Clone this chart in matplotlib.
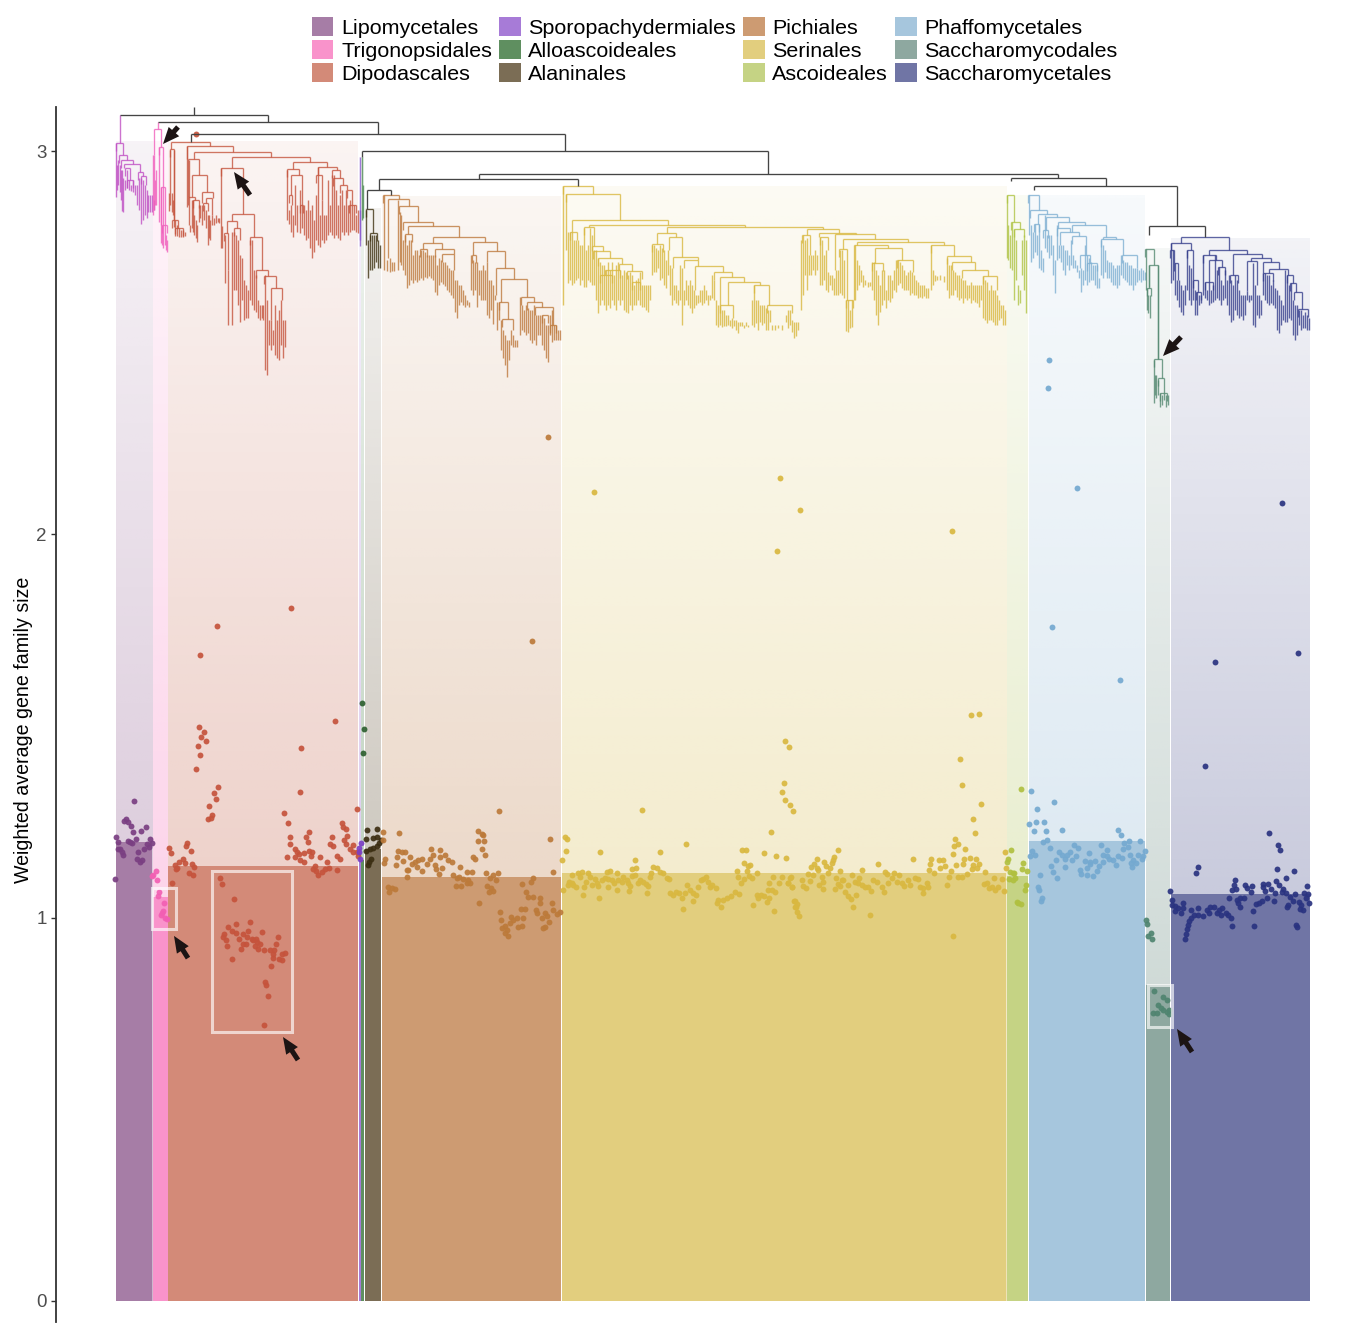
import numpy as np
import matplotlib
matplotlib.use("Agg")
import matplotlib.pyplot as plt
from matplotlib.collections import LineCollection
from matplotlib.colors import to_rgb
from matplotlib.patches import Patch, Rectangle, FancyArrowPatch

plt.rcParams['font.family'] = ['Liberation Sans', 'DejaVu Sans']

orders = ["Lipomycetales", "Trigonopsidales", "Dipodascales", "Sporopachydermiales", "Alloascoideales", "Alaninales",
          "Pichiales", "Serinales", "Ascoideales", "Phaffomycetales", "Saccharomycodales", "Saccharomycetales"]
bar_colors = ["#A67DA6", "#F993CB", "#D38A78", "#A77BD7", "#5F8F60", "#7B6D55",
              "#CD9B72", "#E2CE7E", "#C5D384", "#A6C6DD", "#8EA8A0", "#7075A5"]
point_colors = ["#7A3F82", "#F25FB3", "#C5533C", "#7B3FC4", "#2E5F30", "#3B2E12",
                "#BC7A3A", "#D9B840", "#B0C040", "#74A9D0", "#4F8470", "#2A3380"]
tree_colors = ["#C050C4", "#F060BC", "#C5553E", "#8A5CD0", "#4F8A55", "#3F3212",
               "#BE7A3E", "#D9B840", "#B0C445", "#7FB0D2", "#568A72", "#363F8C"]
clade_start = [115.5, 152.5, 168, 358.5, 361, 365, 382, 561.5, 1007, 1029, 1146, 1171]
clade_end = [152, 167.5, 358, 360.5, 364, 381, 561, 1006, 1028, 1145, 1170, 1309.5]
mean_size = [1.197, 1.053, 1.134, 1.18, 1.15, 1.18, 1.106, 1.116, 1.108, 1.20, 0.823, 1.061]
band_top = [3.026, 3.026, 3.026, 2.985, 2.985, 2.853, 2.884, 2.910, 2.887, 2.887, 2.748, 2.774]
y_ticks = [0, 1, 2, 3]
highlight_boxes = [(152, 176, 0.97, 1.077), (212, 292, 0.70, 1.121), (1148, 1172, 0.715, 0.823)]
arrows_value = [((188, 0.894), (174, 0.952)), ((298, 0.628), (283, 0.688)), ((1192, 0.649), (1177, 0.709))]
arrows_depth = [((250, 195), (234, 172)), ((178, 127), (163, 144)), ((1181, 337), (1163, 356))]

# species: (species position, weighted average family size)
lipo_pts = [(134,1.305),(126,1.256),(124,1.253),(128,1.250),(131,1.240),(133,1.224),(141,1.227),(146,1.237),(116,1.210),(118,1.198),(128,1.201),(132,1.194),(136,1.205),(150,1.204),(152,1.195),(149,1.185),(144,1.180),(138,1.170),(118,1.178),(122,1.172),(123,1.162),(137,1.154),(140,1.146),(142,1.149),(115,1.101),(120,1.180),(130,1.198),(147,1.192)]
trig_pts = [(156,1.121),(153,1.111),(152,1.109),(157,1.097),(159,1.066),(158,1.055),(164,1.037),(163,1.018),(161,1.007),(165,1.000),(167,0.997),(162,1.012)]
dipo_pts = [(196,3.046),(217,1.761),(291,1.808),(200,1.685),(335,1.513),(301,1.443),(199,1.497),(204,1.484),(201,1.471),(206,1.461),(198,1.448),(200,1.424),(196,1.388),
 (218,1.342),(214,1.324),(216,1.309),(209,1.291),(212,1.268),(208,1.258),(211,1.259),(300,1.328),(284,1.272),(288,1.246),(357,1.283),(309,1.222),(342,1.248),(343,1.237),(346,1.232),(290,1.209),(306,1.209),(308,1.198),(290,1.192),(332,1.209),(330,1.192),(333,1.187),(347,1.214),(344,1.202),(346,1.192),(353,1.189),(350,1.178),(353,1.172),(357,1.172),(358,1.161),(295,1.179),(297,1.172),(299,1.166),(309,1.174),(312,1.172),(304,1.168),(311,1.161),(287,1.157),(295,1.157),(300,1.150),(304,1.144),(320,1.157),(337,1.161),(340,1.152),(315,1.134),(313,1.126),(316,1.122),(318,1.112),(322,1.119),(325,1.127),(327,1.144),(329,1.129),(337,1.124),
 (169,1.181),(171,1.169),(187,1.194),(186,1.187),(191,1.174),(179,1.146),(183,1.154),(185,1.143),(175,1.137),(177,1.128),(176,1.126),(192,1.139),(194,1.131),(189,1.115),(193,1.112),(172,1.091),
 (220,1.103),(222,1.087),(234,1.049),(236,0.983),(250,0.989),(228,0.974),(232,0.966),(236,0.959),(248,0.966),(243,0.956),(239,0.945),(247,0.950),(224,0.957),(223,0.950),(226,0.941),(227,0.926),(232,0.892),(262,0.963),(278,0.950),(253,0.941),(257,0.935),(255,0.926),(258,0.919),(243,0.931),(241,0.917),(264,0.914),(270,0.915),(276,0.931),(274,0.915),(273,0.906),(285,0.908),(282,0.904),(273,0.894),(282,0.889),(279,0.892),(271,0.873),(265,0.832),(266,0.823),(268,0.796),(264,0.720),(252,0.945),(256,0.945),(246,0.931),(260,0.930)]
sporo_pts = [(361,1.194),(359,1.181),(360,1.154),(359,1.170)]
allo_pts = [(362,1.560),(364,1.492),(363,1.430)]
alan_pts = [(367,1.228),(377,1.231),(366,1.204),(373,1.208),(377,1.209),(381,1.202),(379,1.194),(377,1.187),(373,1.181),(370,1.179),(366,1.174),(371,1.154),(369,1.146),(368,1.137)]
pich_pts = [(383,1.224),(383,1.202),(399,1.221),(385,1.154),(384,1.143),(398,1.174),(402,1.172),(405,1.170),(397,1.159),(403,1.148),(410,1.159),(396,1.137),(407,1.124),(408,1.123),(407,1.105),(422,1.154),(418,1.150),(415,1.146),(412,1.140),(417,1.131),(422,1.121),(427,1.141),(430,1.154),(433,1.163),(431,1.178),(440,1.177),(440,1.157),(445,1.163),(448,1.150),(452,1.146),(435,1.137),(436,1.126),(442,1.128),(439,1.114),(388,1.079),(392,1.076),(395,1.075),(389,1.066),(479,1.037),(499,1.279),(478,1.226),(482,1.218),(483,1.215),(478,1.199),(484,1.201),(482,1.178),(485,1.164),(473,1.159),(475,1.153),(460,1.133),(453,1.111),(457,1.102),(459,1.107),(467,1.120),(472,1.120),(463,1.101),(468,1.098),(467,1.089),(470,1.089),(456,1.081),(461,1.082),(486,1.115),(498,1.117),(493,1.111),(490,1.102),(496,1.098),(487,1.083),(491,1.076),(493,1.069),(489,1.066),(550,1.205),(553,1.118),(533,1.102),(531,1.093),(522,1.087),(526,1.066),(528,1.054),(533,1.053),(540,1.052),(540,1.037),(521,1.021),(525,1.021),(536,1.020),(537,1.011),(552,1.037),(553,1.020),(545,1.011),(547,1.004),(542,1.000),(560,1.015),(557,1.009),(500,1.015),(501,0.993),(511,1.002),(513,0.993),(523,0.999),(517,0.998),(510,0.985),(505,0.979),(502,0.973),(507,0.967),(505,0.959),(508,0.953),(522,0.979),(518,0.976),(549,0.987),(545,0.976),(543,0.973),(532,1.722),(548,2.254)]
seri_pts = [(565,1.211),(567,1.204),(566,1.174),(562,1.149),(600,1.172),(635,1.150),(660,1.170),(686,1.192),(771,1.222),(742,1.176),(746,1.176),(764,1.169),(776,1.161),(786,1.155),(744,1.142),(748,1.135),(750,1.138),(737,1.122),(747,1.121),(757,1.115),(738,1.107),
 (572,1.111),(569,1.094),(572,1.089),(573,1.085),(576,1.080),(568,1.085),(578,1.117),(582,1.120),(580,1.107),(588,1.115),(590,1.105),(586,1.094),(592,1.085),(584,1.079),(595,1.100),(598,1.083),(597,1.091),(602,1.098),(607,1.120),(610,1.122),(605,1.102),(608,1.100),(612,1.098),(614,1.091),(617,1.115),(618,1.098),(622,1.094),(623,1.107),(627,1.098),(628,1.089),(630,1.083),(632,1.126),(636,1.128),(632,1.108),(635,1.111),(638,1.089),(640,1.098),(643,1.094),(646,1.087),(648,1.082),(650,1.107),(651,1.117),(653,1.131),(657,1.128),(660,1.120),(663,1.115),(667,1.104),(669,1.100),(670,1.063),(673,1.059),(676,1.067),(679,1.063),(682,1.050),(685,1.063),(687,1.085),(690,1.072),(693,1.063),(696,1.059),(693,1.044),(683,1.021),(698,1.080),(701,1.098),(703,1.100),(706,1.105),(708,1.094),(710,1.080),(712,1.085),(716,1.076),(718,1.047),(721,1.027),(717,1.039),(723,1.046),(727,1.050),(731,1.055),(735,1.067),(739,1.061),(741,1.089),(744,1.101),(749,1.109),(752,1.102),(753,1.032),(757,1.059),(758,1.050),(761,1.059),(764,1.055),(767,1.041),(769,1.050),(768,1.072),(772,1.072),(775,1.066),(769,1.089),(773,1.105),(779,1.089),(782,1.105),(788,1.091),(791,1.105),(792,1.080),(774,1.016),
 (563,1.072),(583,1.060),(599,1.050),(608,1.079),(617,1.072),(629,1.070),(647,1.065),(794,1.044),(795,1.028),
 (817,1.153),(814,1.141),(811,1.133),(817,1.128),(818,1.124),(824,1.146),(834,1.157),(833,1.150),(832,1.143),(838,1.176),(826,1.134),(830,1.128),(828,1.117),(840,1.121),(808,1.113),(813,1.111),(790,1.103),(788,1.091),(792,1.079),(802,1.097),(803,1.082),(806,1.076),(810,1.096),(822,1.107),(823,1.094),(819,1.085),(823,1.074),(836,1.104),(842,1.098),(838,1.087),(835,1.074),(843,1.098),(840,1.082),(848,1.085),(852,1.111),(859,1.104),(855,1.094),(858,1.089),(862,1.124),(862,1.085),(865,1.080),(868,1.080),(871,1.070),(873,1.098),(877,1.094),(878,1.141),(882,1.080),(884,1.066),(885,1.120),(887,1.114),(888,1.089),(892,1.102),(894,1.117),(899,1.111),(897,1.094),(902,1.089),(904,1.082),(908,1.098),(910,1.085),(915,1.104),(918,1.100),(920,1.080),(923,1.076),(927,1.089),(928,1.080),(923,1.065),
 (913,1.153),(931,1.153),(930,1.140),(939,1.150),(943,1.150),(945,1.135),(929,1.124),(934,1.117),(940,1.128),(951,1.121),(949,1.107),(947,1.085),(953,1.165),(954,1.187),(958,1.191),(955,1.204),(975,1.221),(965,1.179),(956,1.138),(963,1.139),(964,1.153),(970,1.156),(976,1.154),(979,1.141),(973,1.137),(972,1.127),(977,1.128),(967,1.113),(958,1.106),(962,1.105),(985,1.120),(984,1.087),(987,1.089),(989,1.076),(992,1.080),(994,1.102),(995,1.072),(998,1.080),(1002,1.100),(1004,1.069),(1005,1.172),(1006,1.128),
 (845,1.067),(848,1.056),(851,1.048),(856,1.060),(853,1.027),(870,1.006),(795,1.043),(797,1.035),(796,1.027),(797,1.014),(799,1.004),
 (594,2.111),(780,2.147),(800,2.064),(777,1.957),(952,2.009),(642,1.281),(785,1.461),(789,1.445),(971,1.529),(979,1.531),(960,1.414),(962,1.346),(981,1.296),(973,1.257),(784,1.351),(782,1.328),(785,1.307),(790,1.294),(793,1.278),(953,0.952)]
asco_pts = [(1021,1.335),(1011,1.177),(1008,1.152),(1007,1.146),(1023,1.143),(1022,1.127),(1027,1.121),(1010,1.120),(1013,1.115),(1014,1.115),(1009,1.101),(1013,1.098),(1015,1.102),(1026,1.086),(1025,1.073),(1017,1.041),(1018,1.037),(1021,1.035)]
phaf_pts = [(1031,1.329),(1054,1.301),(1037,1.282),(1029,1.245),(1036,1.249),(1044,1.249),(1034,1.226),(1046,1.225),(1062,1.229),(1043,1.198),(1047,1.202),(1050,1.181),(1032,1.174),(1030,1.161),(1035,1.162),(1059,1.172),(1062,1.163),(1065,1.153),(1070,1.172),(1067,1.163),(1074,1.189),(1078,1.181),(1076,1.161),(1072,1.150),(1089,1.168),(1056,1.149),(1051,1.135),(1053,1.119),(1065,1.132),(1040,1.111),(1057,1.102),(1038,1.080),(1039,1.071),(1042,1.052),(1041,1.042),
 (1080,1.124),(1081,1.114),(1085,1.147),(1090,1.146),(1087,1.128),(1090,1.141),(1095,1.147),(1099,1.134),(1097,1.122),(1093,1.108),(1087,1.112),(1101,1.188),(1107,1.175),(1103,1.163),(1107,1.161),(1103,1.146),(1109,1.152),(1113,1.150),(1118,1.161),(1116,1.136),(1122,1.155),(1118,1.229),(1121,1.215),(1124,1.194),(1129,1.200),(1140,1.200),(1145,1.174),(1123,1.179),(1128,1.183),(1130,1.163),(1138,1.162),(1133,1.150),(1143,1.161),(1142,1.152),(1131,1.142),(1136,1.143),(1132,1.131),
 (1049,2.455),(1048,2.383),(1077,2.121),(1052,1.759),(1120,1.620)]
sacd_pts = [(1146,0.993),(1147,0.982),(1148,0.952),(1151,0.960),(1152,0.943),(1154,0.809),(1163,0.793),(1167,0.785),(1158,0.772),(1163,0.758),(1167,0.754),(1153,0.750),(1157,0.752),(1169,0.758),(1169,0.748),(1161,0.763)]
sacc_pts = [(1269,1.221),(1278,1.188),(1280,1.176),(1198,1.132),(1196,1.115),(1277,1.127),(1294,1.121),(1286,1.102),(1276,1.095),(1235,1.099),(1234,1.086),(1236,1.074),(1232,1.071),(1245,1.086),(1247,1.076),(1252,1.083),(1251,1.067),(1263,1.087),(1268,1.087),(1263,1.080),(1265,1.069),(1271,1.074),(1275,1.065),(1279,1.085),(1283,1.074),(1282,1.066),(1286,1.065),(1307,1.081),(1295,1.061),(1304,1.063),(1308,1.061),(1306,1.050),(1309,1.038),(1290,1.054),(1293,1.044),(1288,1.033),(1287,1.027),(1299,1.041),(1301,1.033),(1300,1.021),(1303,1.020),
 (1170,1.068),(1172,1.047),(1172,1.033),(1175,1.030),(1178,1.026),(1183,1.025),(1175,1.017),(1181,1.011),(1183,1.038),(1191,1.020),(1198,1.025),(1194,1.007),(1191,1.000),(1189,0.990),(1188,0.981),(1187,0.970),(1186,0.956),(1185,0.945),(1198,1.007),(1203,1.005),(1207,1.020),(1210,1.027),(1214,1.028),(1209,1.011),(1219,1.020),(1222,1.024),(1217,1.013),(1221,1.007),(1226,1.013),(1228,1.007),(1231,1.000),(1232,0.978),(1229,1.052),(1237,1.047),(1240,1.050),(1244,1.050),(1240,1.027),(1238,1.039),(1253,1.016),(1254,0.978),(1256,1.034),(1259,1.039),(1262,1.044),(1267,1.050),(1274,1.043),(1296,0.980),(1297,0.974),
 (1282,2.082),(1298,1.691),(1215,1.667),(1205,1.395)]
all_points = [lipo_pts, trig_pts, dipo_pts, sporo_pts, allo_pts, alan_pts, pich_pts, seri_pts, asco_pts, phaf_pts, sacd_pts, sacc_pts]

# tree nodes: (left child position, right child position, node depth)
root_nodes = [(120,268,115),(158,378,121.5),(191,565,134),(361.5,768,151),(479,1058,174),(379,578,179),(367,391,190),(1011,1106,178),(1034,1177,186),(1149,1205,226)]
root_stems = [(194,107,115),(191,134,142),(361.5,151,157),(367,190,209),(391,190,195),(578,179,186),(1011,178,181),(1034,186,190),(1149,226,235),(1205,226,237)]
lipo_nodes = [(116,122.7,143),(119,126.7,155),(120.7,133.3,160),(124,140,164),(125,130,168),(138,142.7,172),(141,146,176),(127,133,180)]
trig_nodes = [(154.3,161.3,129),(158.7,163.3,146.7),(161,165,187),(161.7,166.7,225)]
dipo_nodes = [(171.3,210,141.7),(169.7,174,149.3),(187,233,145.7),(188,199,158.7),(193.7,271,152.3),(191.7,207,175.3),(201.7,212.7,191.7),(231.7,310,157.3),(221,242.7,167.7),(231.7,253.7,214),(226.7,237,220.7),(224,228,233),(234,240,228),(250,261.7,236.7),(255.7,267.7,270),(264,275.7,275.7),(270.7,281.7,287.7),(292.7,327,162.3),(287,299,169.3),(291,302,175),(318,336.7,167.3),(316,322,175),(331.7,340,170),(333,343,178),(340,347,185),(347,352,190),(349,356,205),(288.7,292,195),(300,303,205),(188,195,197),(193,199,200),(203,208,203),(206,212,198),(172,178,220),(175,183,228)]
alan_nodes = [(366,373,209),(370,377,233)]
pich_nodes = [(383,399,195),(388,409,199),(399,418,206),(403,433,221.7),(408,459,225.7),(405,412,234),(432.7,485,237.3),(422.7,442.3,243.3),(473,496.7,242.3),(420,427,249),(435,454,249),(441.7,454,254),(471.7,476,255),(487.3,505.3,250.7),(496.3,514.3,268.3),(501,527.3,279.3),(520.7,533.7,296.7),(499.3,508.3,301.7),(501.7,513.3,319.3),(526.7,541.7,301.7),(535,552.7,307.3),(542,548,315),(550,556,325)]
seri_nodes = [(563,593,186),(566,620,194.3),(571.7,667.7,220),(589.3,745,225),(666.7,823,227.3),(570,576.7,231.7),(584,594.3,227.3),(592.3,602.7,246),(593,610,250.7),(598,621.7,257.7),(619,631.7,264),(626.7,641.7,271),(657.3,676,233.3),(651.7,663.3,244),(669,682.3,237.3),(673,698,257.3),(684,698,260),(694.7,723.3,266),(714,732.3,271.7),(720,744,276.7),(728.3,760,281.7),(754,769.3,285),(720,733,305),(766.7,792.3,305),(806.7,839.3,229.3),(801.7,810,235),(819.3,855.7,232.7),(820,827.7,236.7),(835,875,234.3),(842.7,908.3,239.3),(839.3,846.7,249),(856.7,944.3,241.7),(854,888,245),(930.7,954.3,245),(875,901.7,247.7),(871.7,883.3,262.7),(896.7,913.3,260),(946.7,970.7,256),(951.7,975,262),(961.7,988.3,270),(983.3,996.7,276),(846,853.3,300),(605,620,270),(632,640,282),(600,612,275)]
asco_nodes = [(1007.3,1014,195),(1010.7,1020,222.3),(1014,1024.3,229)]
phaf_nodes = [(1028.3,1039,195),(1030,1047.3,210),(1037.7,1056.7,214),(1045.7,1068.7,217.3),(1058.3,1085,221.7),(1034.3,1039.3,224),(1043,1048,230),(1057.3,1070,227.7),(1071.7,1105.7,225),(1060,1079.3,231.7),(1071.7,1086,236),(1101,1123.3,239),(1102.7,1115.7,236.7),(1121.7,1136.7,255),(1080,1090,255),(1087,1097,263)]
sacd_nodes = [(1145.3,1153.7,249),(1147,1151,287.7),(1148.7,1158,265),(1154,1161.7,359.3),(1158.3,1163.7,378.3),(1160,1167,393)]
sacc_nodes = [(1181.3,1228.7,237.3),(1171,1190.7,242.7),(1209,1247.3,250),(1203.3,1215.7,255),(1233.3,1261.7,254),(1250.7,1271,257.7),(1208.7,1222.3,260),(1246.7,1256.7,261),(1262.7,1279.3,261.7),(1269.3,1288.3,269),(1286.7,1292.7,275),(1290,1296,282.7),(1294,1301.7,292),(1298.3,1308.3,309.3),(1170,1174,250),(1174.3,1178.3,263.3),(1186.7,1193.3,250),(1193.3,1198.3,280),(1196,1200.7,291.7),(1205,1212.7,281.7),(1218.3,1225,267.3),(1230,1238.3,275),(1263.3,1273.3,273.3)]
sporo_nodes = []
allo_nodes = []
all_nodes = [lipo_nodes, trig_nodes, dipo_nodes, sporo_nodes, allo_nodes, alan_nodes, pich_nodes, seri_nodes, asco_nodes, phaf_nodes, sacd_nodes, sacc_nodes]

# tips: (species position, branch start depth, branch end depth)
lipo_tips = [(120,115,143),(116,143,197),(117,165,190),(118,160,185),(120,165,192),(121,170,200),(122,170,211),(123,178,212),(125,180,190),(127,170,188),(129,180,190),(131,185,191),(133,180,192),(135,185,195),(137,185,205),(139,178,210),(141,178,224),(143,180,220),(145,185,215),(147,190,218),(148,195,212),(150,195,212),(152,195,212),(154,200,210)]
trig_tips = [(158,121.5,129),(153,155,215),(154,155,210),(155,180,205),(156,170,205),(159,147,222),(161,187,243),(162,225,245),(163,187,248),(165,225,245),(166,235,250),(167,240,252)]
dipo_tips = [(169,193,211),(170,150,205),(172,193,212),(173,200,215),(174,150,227),(175,220,234),(177,225,236),(179,228,237),(181,230,237),(183,230,237),(185,232,236),(187,146,207),(189,160,225),(190,225,232),(192,200,228),(193,200,232),(194,215,235),(196,220,238),(197,225,242),(199,205,222),(200,205,218),(202,205,225),(204,205,220),(206,210,228),(208,215,245),(209,215,238),(210,220,240),(212,215,225),(214,218,225),(216,215,223),(218,218,222),(219,218,223),(221,168,248),(222,226,248),(225,235,283),(228,270,325),(232,232,325),(234,232,290),(236,235,290),(238,240,305),(240,255,322),(242,258,300),(244,280,320),(246,285,318),(248,290,318),(250,240,300),(252,240,305),(254,270,310),(256,275,312),(258,300,318),(260,305,320),(262,305,318),(263,305,320),(265,275,370),(267,300,375),(269,320,345),(271,320,350),(273,330,345),(275,305,355),(277,320,358),(279,310,360),(281,300,345),(283,320,358),(285,320,347),
 (287,170,220),(289,210,224),(291,205,232),(293,215,237),(295,185,225),(297,205,232),(300,190,233),(302,205,228),(304,205,235),(306,210,240),(308,200,238),(310,210,248),(312,205,258),(314,220,252),(316,195,240),(318,167,245),(320,215,247),(322,200,240),(324,215,243),(326,215,240),(328,180,235),(330,205,232),(332,175,235),(334,175,238),(336,190,235),(338,205,238),(340,195,240),(342,190,232),(344,205,235),(346,190,232),(348,205,235),(350,200,232),(352,205,230),(354,205,230),(356,215,232),(358,210,233)]
sporo_tips = [(359.7,157,246),(360,210,240)]
allo_tips = [(362.3,157,220),(362.8,185,218)]
alan_tips = [(366,210,245),(368,240,278),(370,235,270),(372,235,270),(374,235,268),(376,235,262),(378,240,268),(380,245,268)]
pich_tips = [(384,195,270),(387,260,271),(390,258,272),(392,262,271),(394,262,271),(398,200,270),(400,212,262),(401,215,265),(403,240,270),(405,235,275),(407,245,288),(409,240,285),(411,240,280),(413,255,283),(415,250,280),(417,250,282),(419,255,280),(421,250,278),(423,250,280),(425,252,277),(427,255,278),(429,255,276),(431,255,278),(433,255,280),(435,255,292),(437,265,295),(439,258,285),(441,260,282),(443,262,284),(445,262,286),(447,265,290),(449,268,292),(451,270,295),(453,270,298),(455,280,312),(457,280,318),(459,285,305),(461,285,302),(463,290,305),(465,295,307),(467,300,305),(469,302,307),(471,255,290),(473,260,295),(475,262,290),(477,262,307),(479,270,295),(481,270,300),(483,265,300),(485,270,300),(487,262,315),(489,280,318),(491,280,310),(493,285,324),(495,295,300),(497,302,330),(499,302,320),(501,320,350),(503,330,358),(505,335,365),(507,340,377),(509,340,360),(511,330,345),(513,335,347),(515,340,347),(517,340,347),(520,297,335),(522,305,330),(524,310,332),(526,305,335),(528,308,333),(530,310,340),(532,310,343),(534,305,340),(536,315,345),(538,315,335),(540,315,335),(542,315,345),(544,318,350),(546,325,358),(548,325,362),(550,315,335),(552,310,342),(554,325,340),(556,325,340),(558,330,340),(560,330,340)]
seri_tips = [(563,186,305),(566,194,250),(568,232,283),(570,232,280),(572,232,285),(574,240,283),(576,240,280),(578,240,278),(580,245,285),(582,245,280),(584,228,287),(586,250,287),(588,245,280),(590,228,282),(592,235,285),(594,250,285),(596,250,300),(598,258,313),(600,262,305),(602,265,300),(604,265,305),(606,270,310),(608,262,305),(610,270,308),(612,262,300),(614,275,305),(616,265,310),(618,262,300),(620,270,305),(622,275,300),(624,270,310),(626,272,312),(628,275,313),(630,272,305),(632,275,310),(634,285,305),(636,280,305),(638,278,300),(640,272,305),(642,285,307),(644,285,307),(646,285,310),(648,285,312),(650,285,300),(652,245,275),(654,245,272),(656,248,272),(658,250,268),(660,245,280),(662,248,278),(664,250,285),(666,260,288),(668,250,275),(670,265,295),(672,268,305),(674,285,300),(676,285,303),(678,290,305),(680,265,300),(682,268,325),(684,290,305),(686,280,300),(688,285,305),(690,280,308),(692,285,313),(694,290,308),(696,295,305),(698,295,303),(700,290,302),(702,290,305),(704,285,303),(706,290,300),(708,295,305),(710,295,300),(712,275,298),(714,280,300),(716,300,325),(718,305,327),(720,305,325),(722,310,327),(724,310,326),(726,315,326),(728,315,325),(730,320,326),(732,318,328),(734,320,326),(736,320,330),(738,322,333),(740,322,326),(742,322,326),(744,325,328),(746,322,326),(748,325,327),(752,300,325),(754,285,327),(756,300,323),(758,300,330),(760,305,322),(762,305,325),(764,305,323),(766,308,330),(768,310,330),(770,310,322),(772,325,330),(775,325,330),(778,325,328),(782,325,330),(786,315,322),(788,310,328),(790,310,325),(792,320,332),(794,322,338),(796,322,336),(798,322,330),
 (801,240,310),(803,235,295),(805,240,275),(807,238,290),(809,255,275),(811,255,275),(813,255,270),(815,250,275),(817,255,270),(820,237,285),(822,240,285),(824,255,280),(826,250,290),(828,272,292),(830,275,285),(832,275,290),(834,278,295),(836,270,295),(838,270,295),(840,250,293),(842,250,295),(844,260,298),(846,300,331),(848,300,332),(850,310,328),(852,300,327),(855,245,300),(857,260,290),(859,265,285),(861,270,282),(863,275,287),(865,280,285),(868,282,287),(870,282,286),(872,262,290),(874,262,300),(876,270,315),(878,275,325),(880,285,312),(882,270,305),(884,270,300),(886,290,308),(888,275,300),(890,275,302),(892,280,298),(894,270,290),(896,260,292),(898,260,285),(900,262,283),(902,265,288),(904,270,290),(906,275,290),(908,272,290),(910,270,295),(912,272,293),(914,275,295),(916,280,295),(918,282,298),(920,285,297),(922,285,298),(924,285,296),(926,288,298),(928,288,298),(931,245,290),(933,270,285),(935,275,281),(937,276,280),(940,275,280),(944,276,282),(947,258,290),(949,265,298),(951,265,295),(953,270,295),(955,272,290),(957,275,297),(959,275,300),(961,278,298),(963,280,303),(965,280,298),(967,285,300),(969,285,298),(971,282,303),(973,285,300),(975,285,302),(977,285,303),(979,285,307),(981,285,300),(983,276,318),(985,280,320),(987,282,323),(989,290,320),(991,285,320),(993,290,322),(995,290,325),(997,295,325),(999,300,320),(1001,305,318),(1003,305,325),(1005,310,325)]
asco_tips = [(1007,195,258),(1008,225,260),(1010,235,268),(1012,222,270),(1014,229,300),(1016,240,280),(1018,285,305),(1020,290,303),(1022,240,275),(1024,235,290),(1026,240,313)]
phaf_tips = [(1029,195,235),(1031,225,262),(1033,232,258),(1035,224,252),(1037,235,255),(1039,224,268),(1041,250,270),(1043,258,272),(1045,215,248),(1047,235,252),(1049,235,258),(1051,235,255),(1053,245,275),(1055,260,293),(1057,225,260),(1059,245,258),(1061,245,262),(1063,245,270),(1065,250,275),(1067,250,265),(1069,255,270),(1071,240,265),(1073,255,268),(1075,260,268),(1077,265,272),(1079,270,278),(1081,268,292),(1083,270,285),(1085,245,280),(1087,255,285),(1089,258,282),(1091,262,280),(1093,265,280),(1095,265,285),(1097,265,288),(1099,278,288),(1101,240,275),(1103,245,278),(1105,250,272),(1107,260,278),(1109,262,278),(1111,262,282),(1113,265,285),(1115,268,285),(1117,265,288),(1119,265,285),(1121,255,275),(1123,260,278),(1125,262,280),(1127,262,282),(1129,265,285),(1131,265,285),(1133,268,290),(1135,268,285),(1137,268,282),(1139,270,280),(1141,268,282),(1143,270,280),(1145,272,280)]
sacd_tips = [(1146,249,290),(1147,288,310),(1148,295,313),(1150,295,318),(1148.7,265,287),(1158,265,359),(1154,360,403),(1155,375,395),(1156,375,398),(1158,380,395),(1160,393,407),(1162,395,405),(1164,393,400),(1166,395,407),(1168,395,405)]
sacc_tips = [(1171,243,283),(1173,250,280),(1175,263,295),(1177,280,300),(1179,280,307),(1181,285,312),(1183,290,315),(1185,285,305),(1187,250,290),(1189,265,300),(1191,268,305),(1193,280,300),(1195,290,315),(1197,292,315),(1199,295,305),(1201,295,303),(1203,255,295),(1205,282,298),(1207,290,300),(1209,282,305),(1211,290,303),(1213,285,302),(1215,255,300),(1217,270,298),(1219,267,300),(1221,280,305),(1223,285,300),(1225,270,298),(1227,280,305),(1229,275,315),(1231,280,322),(1233,285,320),(1235,275,310),(1237,280,315),(1239,290,318),(1241,295,316),(1243,295,320),(1245,295,315),(1247,291,300),(1249,295,302),(1251,295,300),(1253,263,325),(1255,285,327),(1257,295,315),(1259,295,318),(1261,300,315),(1263,273,295),(1265,273,300),(1267,275,303),(1269,275,305),(1271,285,303),(1273,280,305),(1275,288,308),(1277,290,330),(1279,295,333),(1281,300,325),(1283,305,320),(1285,270,322),(1287,275,322),(1289,285,318),(1291,283,320),(1293,300,335),(1295,305,340),(1297,305,335),(1299,310,325),(1301,310,330),(1303,315,328),(1305,312,328),(1307,315,330),(1309,318,330)]
all_tips = [lipo_tips, trig_tips, dipo_tips, sporo_tips, allo_tips, alan_tips, pich_tips, seri_tips, asco_tips, phaf_tips, sacd_tips, sacc_tips]

W, H = 1357, 1323
fig = plt.figure(figsize=(W / 100, H / 100), dpi=100)
ax = fig.add_axes([56 / W, 1 - 1322 / H, (1345 - 56) / W, (1322 - 107) / H])
X_LIM = (56, 1345)
Y_LIM = (-0.056, 3.116)
DEPTH_LIM = (1322, 107)


def bracket_segments(nodes, tips):
    segs = []
    for xl, xr, d in nodes:
        segs.append([(xl, d), (xr, d)])
        for x in (xl, xr):
            below = [n[2] for n in nodes if n[2] > d and n[0] - 1.5 <= x <= n[1] + 1.5]
            if below:
                end = min(below)
            else:
                near = [t for t in tips if abs(t[0] - x) <= 2.5]
                end = max(d + 8, min(t[1] for t in near)) if near else d + 10
            segs.append([(x, d), (x, end)])
    return segs


for start, end, top, col in zip(clade_start, clade_end, band_top, bar_colors):
    grad = np.zeros((256, 1, 4))
    grad[:, :, :3] = to_rgb(col)
    grad[:, 0, 3] = np.linspace(0.09, 0.56, 256)
    ax.imshow(grad, extent=(start, end, 0, top), aspect='auto', origin='upper', zorder=1, interpolation='bilinear')

ax.bar(clade_start, mean_size, width=np.array(clade_end) - np.array(clade_start), align='edge',
       color=bar_colors, linewidth=0, zorder=2)

for pts, col in zip(all_points, point_colors):
    xs, ys = zip(*pts)
    ax.scatter(xs, ys, s=18, color=col, alpha=0.92, linewidth=0, zorder=3)

for x0, x1, y0, y1 in highlight_boxes:
    ax.add_patch(Rectangle((x0, y0), x1 - x0, y1 - y0, fill=False, edgecolor='white', alpha=0.65, linewidth=2.2, zorder=4))

arrow_style = 'simple,tail_width=0.26,head_width=0.72,head_length=0.85'
for tail, tip in arrows_value:
    ax.add_patch(FancyArrowPatch(tail, tip, arrowstyle=arrow_style, mutation_scale=14, color='#1c1414',
                                 linewidth=0, shrinkA=0, shrinkB=0, zorder=6))

ax.set_xlim(*X_LIM)
ax.set_ylim(*Y_LIM)
ax.set_yticks(y_ticks)
ax.set_xticks([])
for side in ('top', 'right', 'bottom'):
    ax.spines[side].set_visible(False)
ax.spines['left'].set_color('#333333')
ax.spines['left'].set_linewidth(1.3)
ax.tick_params(axis='y', length=3.5, width=1, color='#333333', labelcolor='#4d4d4d', labelsize=13.5, pad=3)
fig.text(24 / W, 1 - 730 / H, "Weighted average gene family size", rotation=90, ha='center', va='center',
         fontsize=14.1, color='black')

tree_ax = ax.twinx()
tree_ax.set_ylim(*DEPTH_LIM)
tree_ax.set_xlim(*X_LIM)
tree_ax.axis('off')
for nodes, tips, col in zip(all_nodes, all_tips, tree_colors):
    tree_ax.add_collection(LineCollection(bracket_segments(nodes, tips), colors=col, linewidths=0.95, alpha=0.8))
    tree_ax.add_collection(LineCollection([[(x, a), (x, b)] for x, a, b in tips], colors=col, linewidths=1.0, alpha=0.8))
root_segs = [[(a, d), (b, d)] for a, b, d in root_nodes] + [[(x, a), (x, b)] for x, a, b in root_stems]
root_drops = [(268, 115, 121.5), (378, 121.5, 134), (565, 134, 151), (768, 151, 174), (479, 174, 179), (379, 179, 190),
              (1058, 174, 178), (1106, 178, 186), (1177, 186, 226)]
root_segs += [[(x, a), (x, b)] for x, a, b in root_drops]
tree_ax.add_collection(LineCollection(root_segs, colors='#444444', linewidths=0.95))
for tail, tip in arrows_depth:
    tree_ax.add_patch(FancyArrowPatch(tail, tip, arrowstyle=arrow_style, mutation_scale=14, color='#1c1414',
                                      linewidth=0, shrinkA=0, shrinkB=0, zorder=6))

handles = [Patch(facecolor=c, edgecolor='none', label=o) for o, c in zip(orders, bar_colors)]
fig.legend(handles=handles, ncol=4, frameon=False, loc='upper left', bbox_to_anchor=(312 / W, 1 - 17 / H),
           borderaxespad=0, borderpad=0, fontsize=15.45, handlelength=1.0, handleheight=1.0, handletextpad=0.36,
           columnspacing=0.33, labelspacing=0.09)

fig.savefig("out.png", dpi=100)
